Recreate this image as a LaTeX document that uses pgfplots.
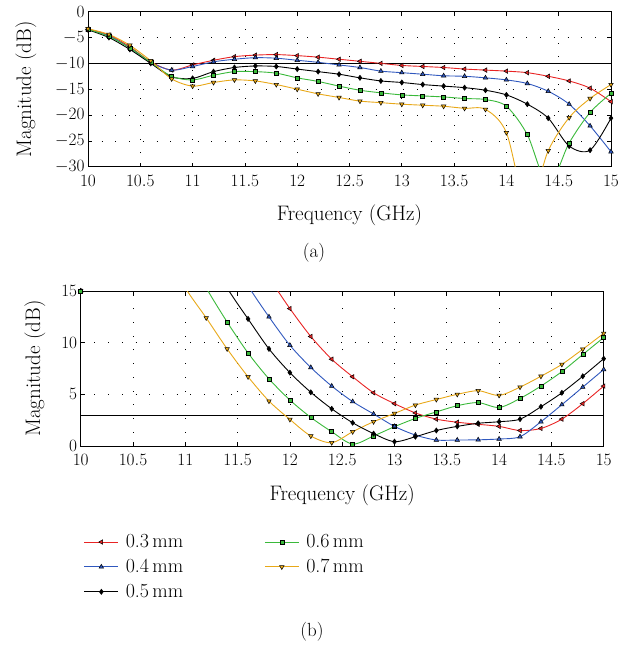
\documentclass[border=0pt]{standalone}
\usepackage{pgfplots}
\pgfplotsset{compat=1.18}
\definecolor{cred}{RGB}{232,36,36}
\definecolor{cblue}{RGB}{48,88,190}
\definecolor{cgreen}{RGB}{58,185,58}
\definecolor{cyel}{RGB}{232,168,24}
\pgfplotsset{
  every axis/.append style={font=\fontsize{18.5}{22}\selectfont},
  myaxis/.style={
    scale only axis, width=523pt, height=155pt, anchor=south west,
    xmin=10, xmax=15, xtick={10,10.5,...,15},
    grid=major, grid style={black, line width=0.6pt, dash pattern=on 0.7pt off 13pt},
    tick align=inside, major tick length=4pt, tick style={black, line width=0.6pt},
    axis line style={line width=0.8pt},
    xlabel={Frequency (GHz)}, ylabel={Magnitude (dB)},
    label style={font=\fontsize{21}{24}\selectfont},
    xticklabel style={yshift=-5pt, /pgf/number format/.cd, fixed, precision=1},
    xlabel shift=12pt,
    every axis plot/.append style={line width=0.9pt, smooth, tension=0.5},
  },
  sR/.style={cred, mark=triangle*, mark size=2.6pt, mark options={rotate=90, fill=cred, draw=black, line width=0.5pt}},
  sB/.style={cblue, mark=triangle*, mark size=2.6pt, mark options={fill=cblue, draw=black, line width=0.5pt}},
  sK/.style={black, mark=diamond*, mark size=2.6pt, mark options={fill=black, draw=black, line width=0.5pt}},
  sG/.style={cgreen, mark=square*, mark size=2pt, mark options={fill=cgreen, draw=black, line width=0.5pt}},
  sY/.style={cyel, mark=triangle*, mark size=2.6pt, mark options={rotate=180, fill=cyel, draw=black, line width=0.5pt}},
}
\begin{document}
\begin{tikzpicture}
\path[use as bounding box] (0pt,0pt) rectangle (639pt,-649pt);
% ---------- (a) ----------
\begin{axis}[myaxis, at={(88pt,-166.7pt)}, ymin=-30, ymax=0, ytick={-30,-25,...,0}, ylabel shift=12pt]
\addplot[black, line width=0.7pt, no marks, sharp plot, forget plot] coordinates {(10,-10) (15,-10)};
\addplot[sR] coordinates {
(10,-3.4)(10.2,-4.5)(10.4,-6.8)(10.6,-9.7)(10.8,-11.3)(11,-10.3)(11.2,-9.4)(11.4,-8.7)(11.6,-8.4)(11.8,-8.3)
(12,-8.5)(12.2,-8.8)(12.4,-9.2)(12.6,-9.6)(12.8,-10.0)(13,-10.4)(13.2,-10.6)(13.4,-10.8)(13.6,-11.1)(13.8,-11.3)
(14,-11.5)(14.2,-11.8)(14.4,-12.5)(14.6,-13.4)(14.8,-14.8)(15,-17.4)};
\addplot[sB] coordinates {
(10,-3.5)(10.2,-4.7)(10.4,-7.0)(10.6,-9.8)(10.8,-11.3)(11,-10.6)(11.2,-9.7)(11.4,-9.2)(11.6,-8.9)(11.8,-9.0)
(12,-9.4)(12.2,-9.8)(12.4,-10.3)(12.6,-10.8)(12.8,-11.5)(13,-11.8)(13.2,-12.1)(13.4,-12.4)(13.6,-12.5)(13.8,-12.8)
(14,-13.2)(14.2,-13.9)(14.4,-15.4)(14.6,-17.9)(14.8,-22.1)(15,-27.1)};
\addplot[sK] coordinates {
(10,-3.5)(10.2,-5.0)(10.4,-7.3)(10.6,-10.0)(10.8,-12.6)(11,-12.9)(11.2,-11.6)(11.4,-10.8)(11.6,-10.5)(11.8,-10.6)
(12,-11.1)(12.2,-11.6)(12.4,-12.1)(12.6,-12.8)(12.8,-13.4)(13,-13.7)(13.2,-14.1)(13.4,-14.4)(13.6,-14.7)(13.8,-15.2)
(14,-16.1)(14.2,-17.9)(14.4,-20.6)(14.6,-26.0)(14.8,-26.8)(15,-20.6)};
\addplot[sG] coordinates {
(10,-3.4)(10.2,-4.8)(10.4,-7.0)(10.6,-9.8)(10.8,-12.5)(11,-13.2)(11.2,-12.3)(11.4,-11.6)(11.6,-11.6)(11.8,-11.9)
(12,-12.8)(12.2,-13.5)(12.4,-14.4)(12.6,-15.2)(12.8,-15.7)(13,-16.1)(13.2,-16.3)(13.4,-16.5)(13.6,-16.8)(13.8,-17.0)
(14,-18.3)(14.2,-23.8)(14.4,-33.5)(14.6,-25.4)(14.8,-19.5)(15,-15.8)};
\addplot[sY] coordinates {
(10,-3.3)(10.2,-4.4)(10.4,-6.5)(10.6,-9.5)(10.8,-13.0)(11,-14.4)(11.2,-13.7)(11.4,-13.2)(11.6,-13.4)(11.8,-14.1)
(12,-15.0)(12.2,-15.9)(12.4,-16.6)(12.6,-17.3)(12.8,-17.6)(13,-17.9)(13.2,-18.1)(13.4,-18.3)(13.6,-18.7)(13.8,-18.9)
(14,-23.4)(14.2,-38.0)(14.4,-26.9)(14.6,-20.5)(14.8,-16.8)(15,-14.1)};
\end{axis}
\node at (314pt,-253pt) {\fontsize{19}{22}\selectfont (a)};
% ---------- (b) ----------
\begin{axis}[myaxis, at={(80.7pt,-446pt)}, ymin=0, ymax=15, ytick={0,5,10,15}, ylabel shift=9pt,
  legend columns=2,
  legend cell align=left,
  legend image code/.code={\draw[mark repeat=2,mark phase=2,#1] plot coordinates {(0pt,0pt)(17pt,0pt)(34pt,0pt)};},
  legend style={at={(0,-0.545)}, anchor=north west, draw=none, fill=none, row sep=6pt,
    font=\fontsize{20}{22}\selectfont,
    /tikz/every odd column/.append style={column sep=5pt},
    /tikz/every even column/.append style={column sep=79pt}},
]
\addplot[black, line width=0.7pt, no marks, sharp plot, forget plot] coordinates {(10,3) (15,3)};
\addplot[sR] coordinates {
(10,15)(10.2,22)(11.6,19.5)(11.8,16.3)(12,13.3)(12.2,10.6)(12.4,8.4)(12.6,6.7)(12.8,5.15)(13,4.1)(13.2,3.2)
(13.4,2.6)(13.6,2.3)(13.8,2.1)(14,1.9)(14.2,1.5)(14.4,1.7)(14.6,2.6)(14.8,4.1)(15,5.8)};
\addlegendentry{0.3\,mm}
\addplot[sG] coordinates {
(10,15)(10.2,22)(11,19)(11.2,15.3)(11.4,12.0)(11.6,9.0)(11.8,6.5)(12,4.45)(12.2,2.77)(12.4,1.38)(12.6,0.19)
(12.8,0.97)(13,1.87)(13.2,2.67)(13.4,3.3)(13.6,3.9)(13.8,4.2)(14,3.73)(14.2,4.6)(14.4,5.8)(14.6,7.2)(14.8,8.85)(15,10.5)};
\addlegendentry{0.6\,mm}
\addplot[sB] coordinates {
(10,15)(10.2,22)(11.4,19)(11.6,15.5)(11.8,12.5)(12,9.75)(12.2,7.6)(12.4,5.8)(12.6,4.3)(12.8,3.1)(13,1.9)
(13.2,1.06)(13.4,0.58)(13.6,0.58)(13.8,0.6)(14,0.68)(14.2,0.9)(14.4,2.35)(14.6,4.0)(14.8,5.7)(15,7.4)};
\addlegendentry{0.4\,mm}
\addplot[sY] coordinates {
(10,15)(10.2,22)(10.8,19)(11,15.3)(11.2,12.4)(11.4,9.4)(11.6,6.7)(11.8,4.35)(12,2.57)(12.2,0.97)(12.4,0.32)
(12.6,1.38)(12.8,2.35)(13,3.15)(13.2,3.96)(13.4,4.5)(13.6,5.0)(13.8,5.35)(14,4.9)(14.2,5.7)(14.4,6.75)(14.6,7.9)(14.8,9.37)(15,10.9)};
\addlegendentry{0.7\,mm}
\addplot[sK] coordinates {
(10,15)(10.2,22)(11.2,19)(11.4,15.3)(11.6,12.3)(11.8,9.4)(12,7.1)(12.2,5.2)(12.4,3.6)(12.6,2.25)(12.8,1.2)
(13,0.42)(13.2,0.9)(13.4,1.5)(13.6,1.9)(13.8,2.2)(14,2.35)(14.2,2.6)(14.4,3.8)(14.6,5.15)(14.8,6.75)(15,8.45)};
\addlegendentry{0.5\,mm}
\addplot[sG, only marks, forget plot] coordinates {(10,15)};
\end{axis}
\node at (312pt,-632pt) {\fontsize{19}{22}\selectfont (b)};
\end{tikzpicture}
\end{document}
